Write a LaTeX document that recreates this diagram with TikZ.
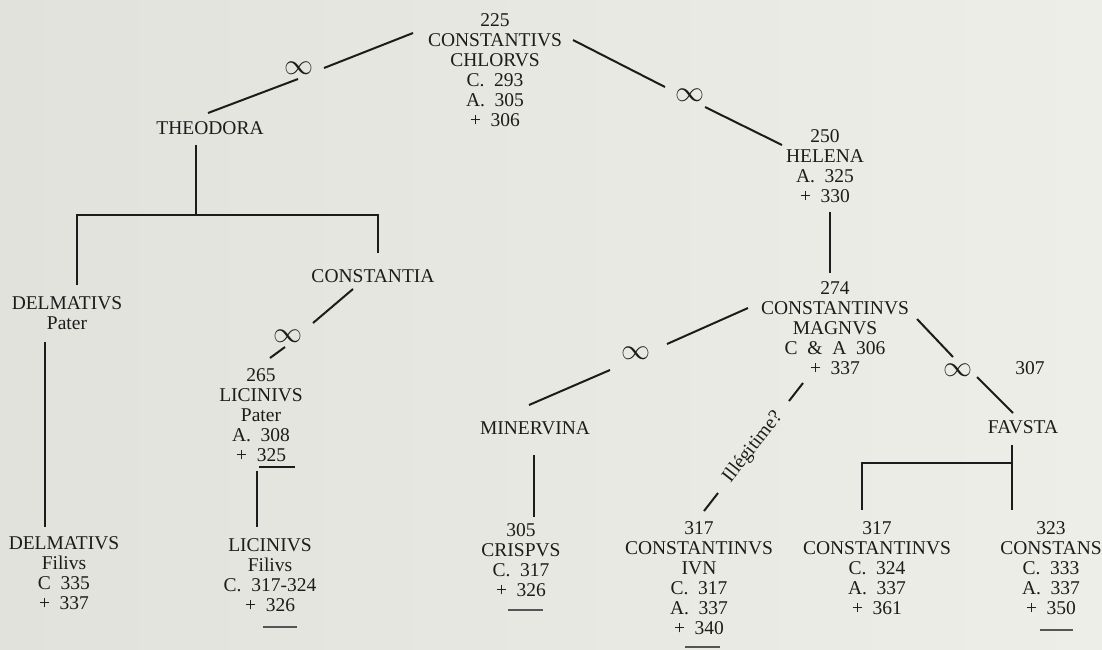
\documentclass[tikz,border=0pt]{standalone}
\usepackage{fontspec}
\setmainfont{Liberation Serif}
\definecolor{bgl}{RGB}{226,226,220}
\definecolor{bgr}{RGB}{238,238,232}
\definecolor{ink}{RGB}{28,28,28}
\newcommand{\fs}{\fontsize{19.5}{20}\selectfont}
\newcommand{\marrsign}{\scalebox{2.9}{$\infty$}}
\begin{document}
\begin{tikzpicture}[x=1pt,y=-1pt,
  person/.style={align=center,font=\fs,inner sep=0pt,anchor=north,text=ink},
  marr/.style={inner sep=0pt,text=ink},
  link/.style={draw=ink,line width=2pt},
  bar/.style={draw=ink!75,line width=1.4pt}]
\useasboundingbox (0,0) rectangle (1102,649);
\shade[left color=bgl,right color=bgr] (0,0) rectangle (1102,649);

% people
\node[person] (cc) at (495,13.5) {225\\CONSTANTIVS\\CHLORVS\\C.~~293\\A.~~305\\+~~306};
\node[person] (theo) at (210,121.5) {THEODORA};
\node[person] (helena) at (825,129.5) {250\\HELENA\\A.~~325\\+~~330};
\node[person] (constantia) at (373,269.5) {CONSTANTIA};
\node[person] (delmp) at (67,296.5) {DELMATIVS\\Pater};
\node[person] (licp) at (261,368.5) {265\\LICINIVS\\Pater\\A.~~308\\+~~325};
\node[person] (cm) at (835,281.5) {274\\CONSTANTINVS\\MAGNVS\\C~~\&~~A~~306\\+~~337};
\node[person] (minerv) at (535,421.5) {MINERVINA};
\node[person] (favsta) at (1023,420.5) {FAVSTA};
\node[person] (n307) at (1030,361.5) {307};
\node[person] (delmf) at (64,536.5) {DELMATIVS\\Filivs\\C~~335\\+~~337};
\node[person] (licf) at (270,538.5) {LICINIVS\\Filivs\\C.~~317-324\\+~~326};
\node[person] (crisp) at (521,523.5) {305\\CRISPVS\\C.~~317\\+~~326};
\node[person] (ivn) at (699,521.5) {317\\CONSTANTINVS\\IVN\\C.~~317\\A.~~337\\+~~340};
\node[person] (ctwo) at (877,521.5) {317\\CONSTANTINVS\\C.~~324\\A.~~337\\+~~361};
\node[person] (constans) at (1051,521.5) {323\\CONSTANS\\C.~~333\\A.~~337\\+~~350};

% marriage signs
\node[marr] (m1) at (299,68) {\marrsign};
\node[marr] (m2) at (690,95) {\marrsign};
\node[marr] (m3) at (288,336) {\marrsign};
\node[marr] (m4) at (636,353) {\marrsign};
\node[marr] (m5) at (958,370) {\marrsign};

% connector end points
\coordinate (c1a) at (413,33);  \coordinate (c1b) at (324,68);
\coordinate (c2a) at (298,79);  \coordinate (c2b) at (208,113);
\coordinate (c3a) at (573,40);  \coordinate (c3b) at (665,87);
\coordinate (c4a) at (705,107); \coordinate (c4b) at (782,145);
\coordinate (c5a) at (353,289); \coordinate (c5b) at (313,323);
\coordinate (c6a) at (285,347); \coordinate (c6b) at (270,358);
\coordinate (c7a) at (748,308); \coordinate (c7b) at (667,344);
\coordinate (c8a) at (610,370); \coordinate (c8b) at (529,405);
\coordinate (c9a) at (917,319); \coordinate (c9b) at (953,357);
\coordinate (c10a) at (977,377); \coordinate (c10b) at (1013,413);

\draw[link] (c1a) -- (c1b);
\draw[link] (c2a) -- (c2b);
\draw[link] (c3a) -- (c3b);
\draw[link] (c4a) -- (c4b);
\draw[link] (c5a) -- (c5b);
\draw[link] (c6a) -- (c6b);
\draw[link] (c7a) -- (c7b);
\draw[link] (c8a) -- (c8b);
\draw[link] (c9a) -- (c9b);
\draw[link] (c10a) -- (c10b);

% descent lines
\coordinate (t1) at (196,145); \coordinate (t2) at (196,215);
\coordinate (bl) at (77,215);  \coordinate (br) at (378,215);
\coordinate (bld) at (77,285); \coordinate (brd) at (378,253);
\draw[link] (t1) -- (t2);
\draw[link] (bld) -- (bl) -- (br) -- (brd);
\coordinate (d1) at (45,342); \coordinate (d2) at (45,527);
\draw[link] (d1) -- (d2);
\coordinate (u1) at (259,467); \coordinate (u2) at (295,467);
\draw[link] (u1) -- (u2);
\coordinate (l1) at (257,471); \coordinate (l2) at (257,527);
\draw[link] (l1) -- (l2);
\coordinate (h1) at (830,212); \coordinate (h2) at (830,273);
\draw[link] (h1) -- (h2);
\coordinate (mv1) at (534,455); \coordinate (mv2) at (534,517);
\draw[link] (mv1) -- (mv2);
\coordinate (f1) at (1012,445); \coordinate (f2) at (1012,510);
\coordinate (f3) at (1012,463); \coordinate (f4) at (862,463); \coordinate (f5) at (862,510);
\draw[link] (f1) -- (f2);
\draw[link] (f3) -- (f4) -- (f5);

% illegitimate link
\coordinate (i1) at (803,383); \coordinate (i2) at (789,401);
\coordinate (i3) at (718,493); \coordinate (i4) at (704,511);
\draw[link] (i1) -- (i2);
\draw[link] (i3) -- (i4);
\node[font=\fs,text=ink,inner sep=0pt,rotate=52] (ill) at (753,447) {Illégitime?};

% closing dashes
\coordinate (e1a) at (263,627); \coordinate (e1b) at (297,627);
\coordinate (e2a) at (508,610); \coordinate (e2b) at (543,610);
\coordinate (e3a) at (685,647); \coordinate (e3b) at (720,647);
\coordinate (e4a) at (1040,630); \coordinate (e4b) at (1073,630);
\draw[bar] (e1a) -- (e1b);
\draw[bar] (e2a) -- (e2b);
\draw[bar] (e3a) -- (e3b);
\draw[bar] (e4a) -- (e4b);
\end{tikzpicture}
\end{document}
